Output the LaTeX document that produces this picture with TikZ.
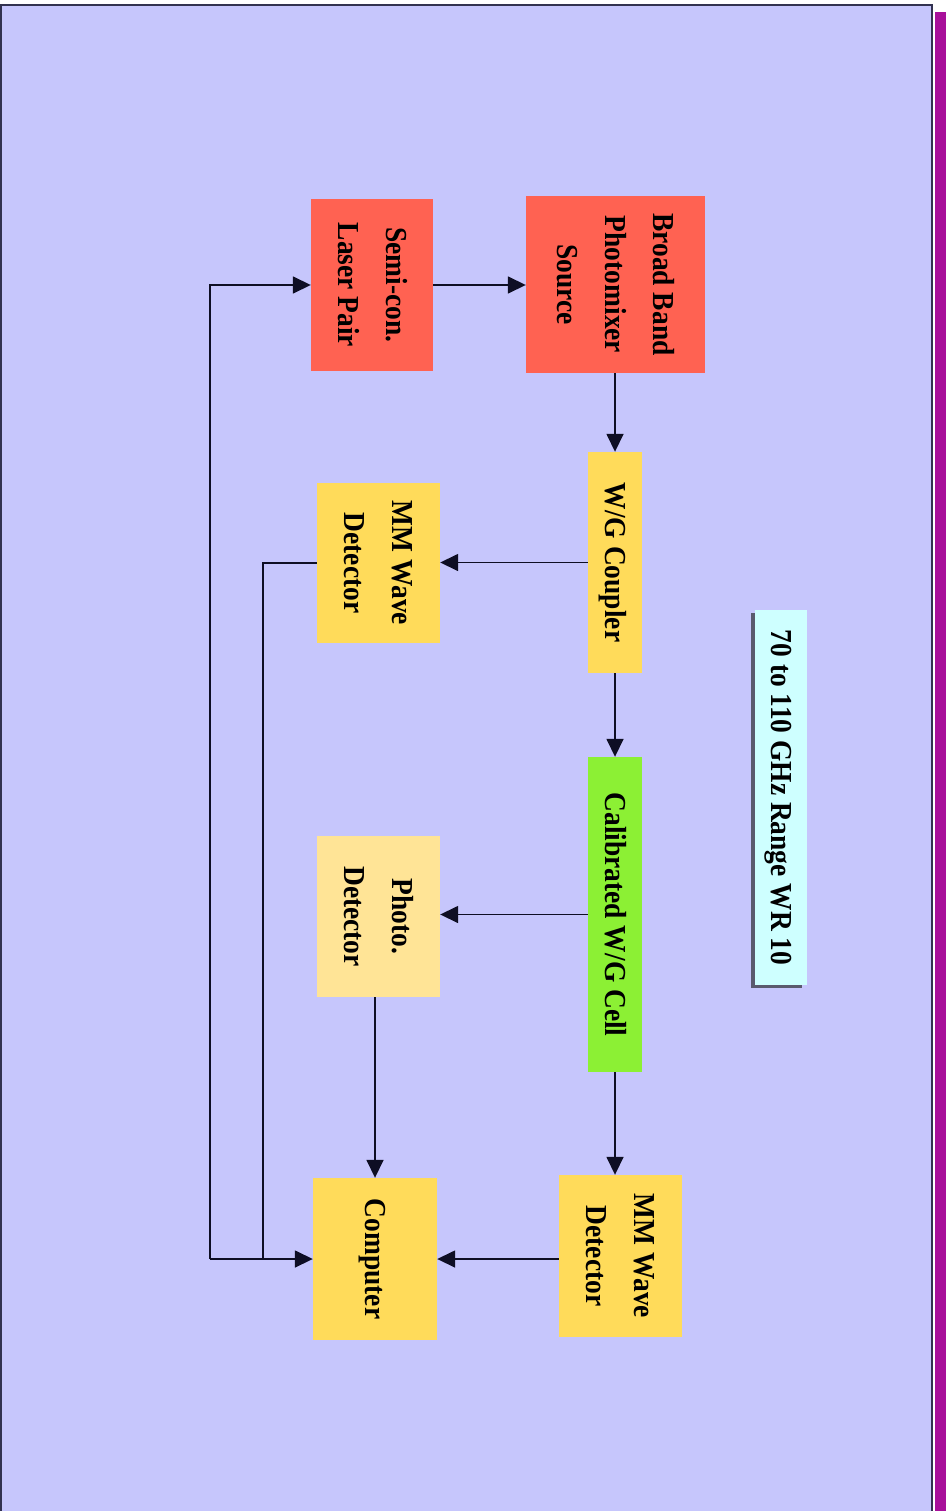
\documentclass[tikz,border=0pt]{standalone}
\usepackage{fontspec}
\setmainfont{Liberation Serif}[FakeStretch=0.9]
\usetikzlibrary{arrows.meta}
\definecolor{bgc}{RGB}{198,198,252}
\definecolor{framec}{RGB}{50,50,80}
\definecolor{magc}{RGB}{168,16,154}
\definecolor{redc}{RGB}{255,98,82}
\definecolor{yelc}{RGB}{255,219,90}
\definecolor{lyelc}{RGB}{255,228,150}
\definecolor{grnc}{RGB}{140,240,52}
\definecolor{cyac}{RGB}{206,255,255}
\definecolor{linec}{RGB}{14,14,36}
\definecolor{shadc}{RGB}{90,90,110}
\newcommand{\vtext}[1]{\rotatebox{-90}{\fontsize{30.5}{48}\selectfont\bfseries\begin{tabular}{@{}c@{}}#1\end{tabular}}}
\tikzset{
  blk/.style={rectangle, inner sep=0pt, draw=none, text=black},
  arr/.style={draw=linec, line width=1.6pt, -{Triangle[length=18pt,width=17pt]}},
  ln/.style={draw=linec, line width=1.6pt},
}
\begin{document}
\begin{tikzpicture}[x=1pt,y=-1pt]
\useasboundingbox (0,0) rectangle (946,1511);
\fill[white] (0,0) rectangle (946,1511);
\fill[bgc] (1,5) rectangle (932,1511);
\draw[framec, line width=2pt] (1,1511) -- (1,5) -- (932,5) -- (932,1511);
\fill[magc] (935,12) rectangle (946,1511);

% nodes
\node[blk, fill=redc, minimum width=122pt, minimum height=172pt] (laser) at (372,285) {\vtext{Semi-con.\\Laser Pair}};
\node[blk, fill=redc, minimum width=179pt, minimum height=177pt] (bb) at (615.5,284.5) {\vtext{Broad Band\\Photomixer\\Source}};
\node[blk, fill=yelc, minimum width=54pt, minimum height=221pt] (coupler) at (615,562.5) {\vtext{W/G Coupler}};
\node[blk, fill=yelc, minimum width=123pt, minimum height=160pt] (mma) at (378.5,563) {\vtext{MM Wave\\Detector}};
\node[blk, fill=grnc, minimum width=54pt, minimum height=315pt] (cell) at (615,914.5) {\vtext{Calibrated W/G Cell}};
\node[blk, fill=lyelc, minimum width=123pt, minimum height=161pt] (photo) at (378.5,916.5) {\vtext{Photo.\\Detector}};
\node[blk, fill=yelc, minimum width=123pt, minimum height=162pt] (mmb) at (620.5,1256) {\vtext{MM Wave\\Detector}};
\node[blk, fill=yelc, minimum width=124pt, minimum height=162pt] (comp) at (375,1259) {\vtext{Computer}};

% range label with shadow
\fill[shadc] (751,613) rectangle (802,988);
\node[blk, fill=cyac, minimum width=52pt, minimum height=375pt] (range) at (781,797.5) {\vtext{70 to 110 GHz Range WR 10}};

% connectors
\coordinate (ja) at (263,1259);
\coordinate (jb) at (210,1259);
\draw[arr] (laser.east) -- (laser.east -| bb.west);
\draw[arr] (bb.south -| coupler) -- (coupler.north);
\draw[arr] (coupler.west) -- (coupler.west -| mma.east);
\draw[arr] (coupler.south) -- (cell.north);
\draw[arr] (cell.west) -- (cell.west -| photo.east);
\draw[arr] (cell.south) -- (cell.south |- mmb.north);
\draw[arr] (mmb.west |- comp.east) -- (comp.east);
\draw[arr] (photo.south -| comp.north) -- (comp.north);
\draw[ln] (mma.west) -| (ja);
\draw[arr] (jb) -- (comp.west);
\draw[arr] (jb) |- (laser.west);
\end{tikzpicture}
\end{document}
